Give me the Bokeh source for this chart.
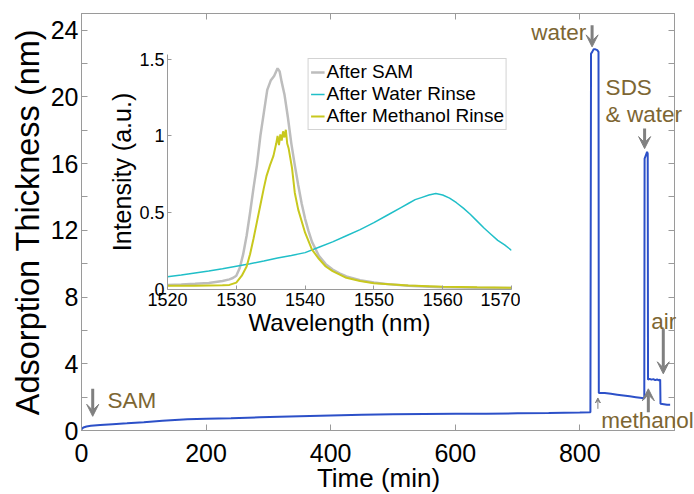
from bokeh.plotting import figure
from bokeh.models import (FixedTicker, LinearAxis, Range1d, Label, Arrow, VeeHead,
                          GridBox, Column, NumeralTickFormatter, Legend, LegendItem)
from bokeh.embed import file_html
from bokeh.resources import INLINE

FONT = "Liberation Sans"

# ---------------- main series: adsorption thickness vs time ----------------
time_min = [0, 3, 8, 15, 30, 50, 73, 100, 130, 170, 200, 240, 286, 350, 400, 450,
            500, 550, 600, 650, 700, 750, 800, 817,
            818, 820, 822, 825, 828, 830,
            830.5, 840, 850, 860, 870, 880, 890, 900, 903.5,
            904, 906, 908, 909,
            909.5, 912, 915, 918, 921, 924, 927, 929,
            929.5, 935, 940, 945]
thickness_nm = [0.08, 0.18, 0.24, 0.28, 0.33, 0.38, 0.43, 0.50, 0.58, 0.67, 0.70, 0.74, 0.79, 0.86, 0.90, 0.94,
                0.97, 0.99, 1.00, 1.01, 1.03, 1.05, 1.08, 1.10,
                22.6, 22.7, 22.85, 22.85, 22.8, 22.7,
                2.25, 2.25, 2.20, 2.15, 2.10, 2.05, 2.00, 1.95, 1.92,
                16.3, 16.5, 16.7, 16.6,
                3.05, 3.10, 3.05, 3.08, 3.02, 3.06, 3.00, 3.05,
                1.60, 1.58, 1.55, 1.55]

x_ticks = [0, 200, 400, 600, 800]
y_ticks = [0, 4, 8, 12, 16, 20, 24]
y_minor_ticks = [2, 6, 10, 14, 18, 22]

# ---------------- inset spectra ----------------
wl_sam = [1520, 1522, 1524, 1526, 1528, 1529, 1529.5, 1530, 1530.5, 1531, 1531.5, 1532, 1532.5,
          1533, 1533.5, 1534, 1534.5, 1535, 1535.5, 1536, 1536.3, 1536.6, 1537, 1537.5, 1538,
          1538.5, 1539, 1539.5, 1540, 1540.5, 1541, 1542, 1543, 1544, 1545, 1546, 1548, 1550,
          1552, 1555, 1558, 1560, 1565, 1570]
int_sam = [0.030, 0.033, 0.037, 0.043, 0.055, 0.066, 0.075, 0.09, 0.14, 0.23, 0.35, 0.50, 0.66,
           0.81, 1.00, 1.15, 1.30, 1.36, 1.39, 1.44, 1.42, 1.35, 1.27, 1.12, 0.95,
           0.81, 0.68, 0.56, 0.46, 0.38, 0.31, 0.22, 0.165, 0.13, 0.105, 0.085, 0.06, 0.045,
           0.035, 0.025, 0.018, 0.015, 0.011, 0.009]

wl_water = [1520, 1522, 1524, 1526, 1528, 1530, 1532, 1534, 1536, 1538, 1540, 1542, 1544,
            1546, 1548, 1550, 1552, 1554, 1555, 1556, 1557, 1558, 1559, 1560, 1561, 1562,
            1563, 1564, 1565, 1566, 1567, 1568, 1569, 1570]
int_water = [0.083, 0.095, 0.108, 0.12, 0.135, 0.152, 0.168, 0.185, 0.205, 0.222, 0.24, 0.275, 0.31,
             0.35, 0.39, 0.435, 0.485, 0.535, 0.56, 0.585, 0.60, 0.615, 0.625, 0.615, 0.595, 0.565,
             0.53, 0.49, 0.445, 0.40, 0.36, 0.32, 0.29, 0.255]

wl_meoh = [1520, 1524, 1528, 1529, 1530, 1530.8, 1531.5, 1532, 1532.5, 1533, 1533.5, 1534,
           1534.4, 1534.9, 1535.4, 1535.8, 1536.0, 1536.2, 1536.4, 1536.6, 1536.8, 1537.0,
           1537.2, 1537.4, 1537.6, 1538.1, 1538.5, 1539, 1540, 1541, 1542, 1543, 1544, 1546,
           1548, 1550, 1555, 1560, 1565, 1570]
int_meoh = [0.025, 0.025, 0.027, 0.030, 0.045, 0.09, 0.15, 0.23, 0.33, 0.44, 0.55, 0.66,
            0.74, 0.81, 0.87, 0.95, 1.00, 0.94, 1.01, 0.97, 1.03, 0.99,
            1.04, 0.95, 0.92, 0.79, 0.63, 0.52, 0.37, 0.26, 0.20, 0.15, 0.12, 0.076,
            0.055, 0.04, 0.026, 0.018, 0.014, 0.012]

wl_ticks = [1520, 1530, 1540, 1550, 1560, 1570]
int_ticks = [0, 0.5, 1, 1.5]
legend_labels = ["After SAM", "After Water Rinse", "After Methanol Rinse"]

AXIS_GRAY = "#9a9a9a"
TEXT_BROWN = "#7d6633"
ARROW_GRAY = "#808080"

# canvas geometry of the main plot
W, H = 694, 494
BL, BR, BT, BB = 81, 19, 13, 60
X0, X1 = 0, 952
Y0, Y1 = 0, 25


def style_axis(ax, tick_size, label_size):
    ax.axis_line_color = AXIS_GRAY
    ax.major_tick_line_color = AXIS_GRAY
    ax.minor_tick_line_color = AXIS_GRAY
    ax.major_tick_in = 6
    ax.major_tick_out = 0
    ax.minor_tick_in = 6
    ax.minor_tick_out = 0
    ax.major_label_text_font = FONT
    ax.major_label_text_font_size = tick_size
    ax.major_label_text_color = "black"
    ax.major_label_standoff = 3
    ax.axis_label_text_font = FONT
    ax.axis_label_text_font_size = label_size
    ax.axis_label_text_font_style = "normal"
    ax.axis_label_text_color = "black"
    ax.axis_label_standoff = 2


# ---------------- main figure ----------------
p = figure(width=W, height=H, x_range=Range1d(X0, X1), y_range=Range1d(Y0, Y1),
           output_backend="svg", toolbar_location=None, title=None,
           min_border_left=BL, min_border_right=BR, min_border_top=BT, min_border_bottom=BB,
           y_axis_label="Adsorption Thickness (nm)")
p.grid.visible = False
p.outline_line_color = AXIS_GRAY
p.background_fill_color = "white"
p.border_fill_color = "white"

p.xaxis.ticker = FixedTicker(ticks=x_ticks)
p.yaxis.ticker = FixedTicker(ticks=y_ticks, minor_ticks=y_minor_ticks)
style_axis(p.xaxis[0], "25px", "26px")
style_axis(p.yaxis[0], "25px", "32.5px")
p.xaxis[0].major_label_standoff = 13

top_ax = LinearAxis(ticker=FixedTicker(ticks=x_ticks))
style_axis(top_ax, "0px", "0px")
top_ax.major_label_standoff = 0
p.add_layout(top_ax, "above")
right_ax = LinearAxis(ticker=FixedTicker(ticks=y_ticks, minor_ticks=y_minor_ticks))
style_axis(right_ax, "0px", "0px")
right_ax.major_label_standoff = 0
p.add_layout(right_ax, "right")

p.line(time_min, thickness_nm, color="#2c50c8", line_width=2)

arrows = [
    (18, 2.5, 0.85, 3, 12),
    (819.7, 24.3, 23.0, 3, 12),
    (904, 18.1, 16.9, 3, 12),
    (934, 6.1, 3.4, 3, 12),
    (910, 1.1, 2.5, 3, 12),
    (829, 1.3, 1.95, 1, 5),
]
for xx, y0, y1, lw, hs in arrows:
    p.add_layout(Arrow(x_start=xx, y_start=y0, x_end=xx, y_end=y1,
                       line_color=ARROW_GRAY, line_width=lw,
                       end=VeeHead(size=hs, fill_color=ARROW_GRAY, line_color=ARROW_GRAY)))

# ---------------- transparent overlay with the same data coordinates (texts may leave the frame) ----
kx = (W - BL - BR) / (X1 - X0)
ky = (H - BT - BB) / (Y1 - Y0)
ov = figure(width=W, height=H, x_range=Range1d(X0 - BL / kx, X1 + BR / kx),
            y_range=Range1d(Y0 - BB / ky, Y1 + BT / ky),
            x_axis_type=None, y_axis_type=None, min_border=0, title=None,
            output_backend="svg", toolbar_location=None)
ov.outline_line_color = None
ov.background_fill_alpha = 0
ov.border_fill_alpha = 0

notes = [
    ("SAM", 41.5, 2.0, "left"),
    ("water", 809, 23.85, "right"),
    ("SDS", 840, 20.6, "left"),
    ("& water", 840, 19.0, "left"),
    ("air", 933, 6.7, "center"),
    ("methanol", 833, 0.83, "left"),
]
for txt, xx, yy, al in notes:
    ov.add_layout(Label(x=xx, y=yy, text=txt, text_align=al, text_baseline="middle",
                        text_font=FONT, text_font_size="22.5px", text_color=TEXT_BROWN))

ov.add_layout(Label(x=(X0 + X1) / 2, y=-2.6, text="Time (min)", text_align="center",
                    text_baseline="middle", text_font=FONT, text_font_size="26px",
                    text_color="black"))

# ---------------- inset figure ----------------
inset = figure(frame_width=344, frame_height=235, x_range=Range1d(1520, 1570),
               y_range=Range1d(0, 1.53), output_backend="svg", toolbar_location=None,
               min_border_left=70, min_border_right=20, min_border_top=5, min_border_bottom=64,
               x_axis_label="Wavelength (nm)", y_axis_label="Intensity (a.u.)")
inset.grid.visible = False
inset.outline_line_color = None
inset.background_fill_color = "white"
inset.border_fill_alpha = 0
inset.xaxis.ticker = FixedTicker(ticks=wl_ticks)
inset.yaxis.ticker = FixedTicker(ticks=int_ticks)
inset.yaxis.formatter = NumeralTickFormatter(format="0.[0]")
style_axis(inset.xaxis[0], "18px", "24px")
style_axis(inset.yaxis[0], "18px", "25px")
for ax in (inset.xaxis[0], inset.yaxis[0]):
    ax.major_tick_in = 4
    ax.axis_label_standoff = 0

r1 = inset.line(wl_sam, int_sam, color="#bdbdbd", line_width=2.5)
r2 = inset.line(wl_water, int_water, color="#20bfc8", line_width=1.5)
r3 = inset.line(wl_meoh, int_meoh, color="#c8c81e", line_width=2)

legend = Legend(items=[LegendItem(label=legend_labels[0], renderers=[r1]),
                       LegendItem(label=legend_labels[1], renderers=[r2]),
                       LegendItem(label=legend_labels[2], renderers=[r3])],
                location="top_right")
legend.label_text_font = FONT
legend.label_text_font_size = "19px"
legend.label_text_color = "black"
legend.glyph_width = 14
legend.glyph_height = 20
legend.label_height = 20
legend.label_standoff = 2
legend.padding = 2
legend.spacing = 0
legend.margin = 4
legend.border_line_color = "#a8a8a8"
legend.border_line_width = 1
legend.background_fill_color = "white"
legend.background_fill_alpha = 1
inset.add_layout(legend)

inset.margin = (41, 0, 0, 86)

ov_box = Column(children=[ov], width=W, height=H)
layout = GridBox(children=[(p, 0, 0), (inset, 0, 0), (ov_box, 0, 0)])

with open("out.html", "w") as f:
    f.write(file_html(layout, INLINE))
